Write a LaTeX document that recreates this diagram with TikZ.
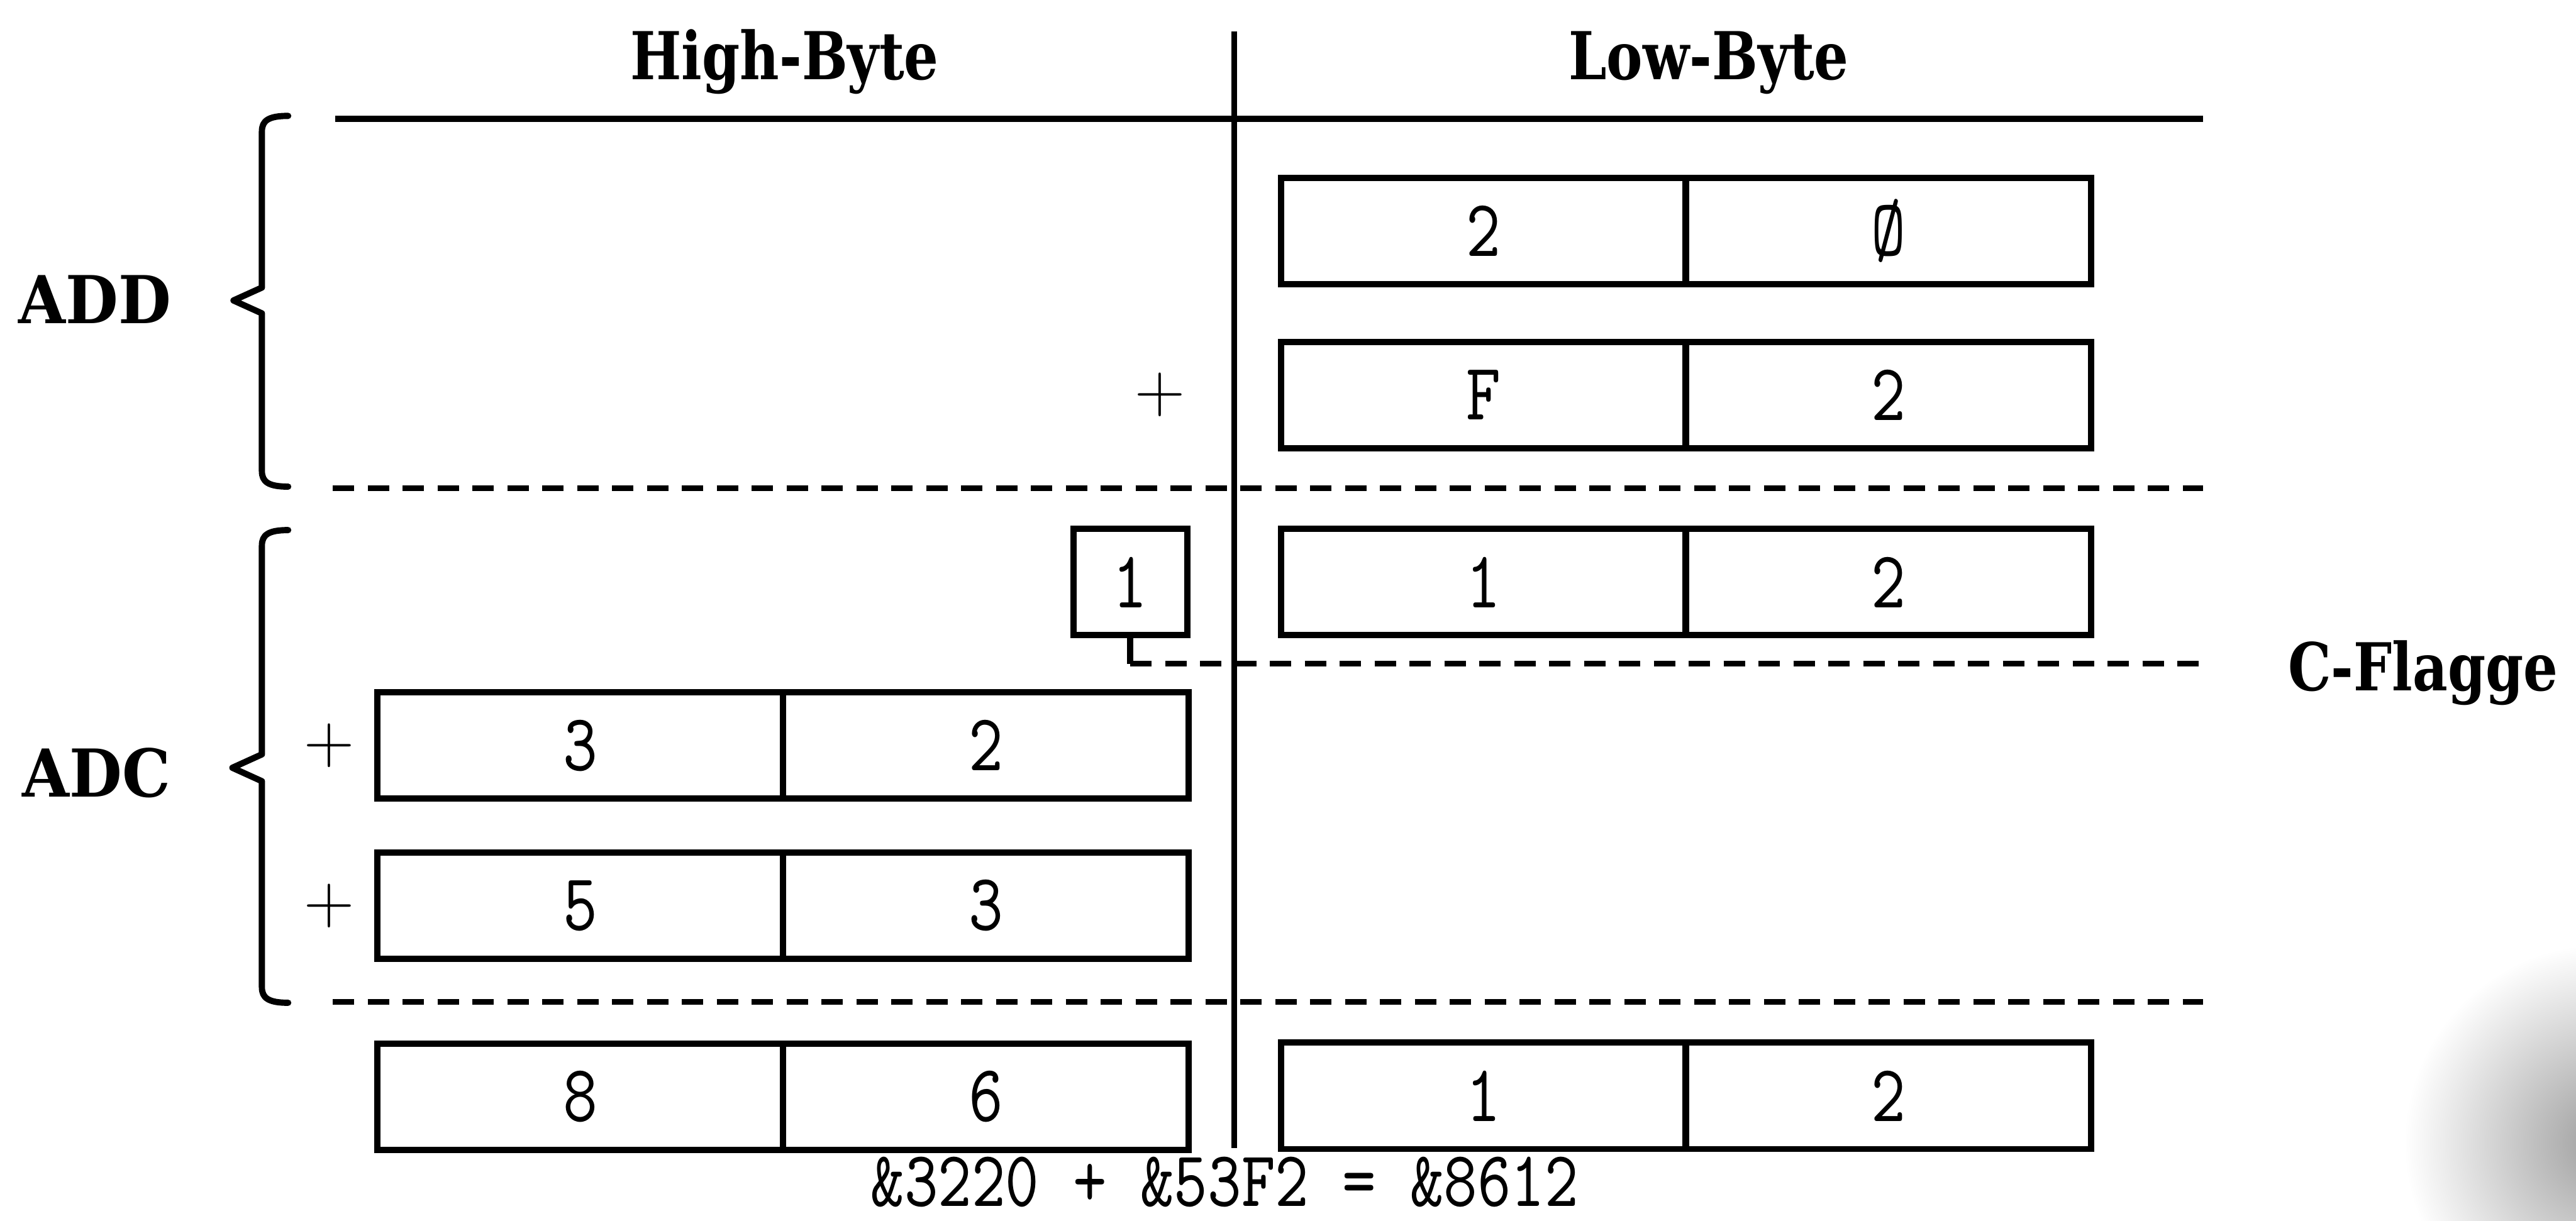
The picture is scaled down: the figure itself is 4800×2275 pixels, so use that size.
\documentclass[tikz,border=0pt]{standalone}
\usepackage{fontspec}
\newfontfamily\headfont[FakeStretch=0.82]{DejaVu Serif}
\newfontfamily\opfont[FakeStretch=0.92]{DejaVu Serif}
\newfontfamily\digfont[FakeStretch=0.81]{lmmono10-regular.otf}
\begin{document}
\begin{tikzpicture}[x=0.01cm,y=-0.01cm,
  cell/.style={draw, line width=3.3pt, minimum width=7.55cm, minimum height=1.98cm, inner sep=0pt,
    font=\digfont\fontsize{43}{43}\selectfont},
  smallcell/.style={cell, minimum width=2.12cm},
  head/.style={font=\headfont\bfseries\fontsize{35}{35}\selectfont, inner sep=0pt},
  oplabel/.style={font=\opfont\bfseries\fontsize{35}{35}\selectfont, inner sep=0pt},
  plussign/.style={font=\fontsize{37}{37}\selectfont, inner sep=0pt},
  sumtext/.style={font=\digfont\fontsize{42}{42}\selectfont, inner sep=0pt},
  solidrule/.style={line width=3.3pt},
  dashrule/.style={line width=3pt, dash pattern=on 0.4cm off 0.25cm},
  divider/.style={line width=3pt},
  bracepath/.style={line width=3.3pt, line join=round, line cap=round}]
\useasboundingbox (0,0) rectangle (4800,2275);
% scan smudge bottom right
\begin{scope}
\clip (0,0) rectangle (4800,2275);
\shade[inner color=black!38, outer color=white] (4850,2130) circle [radius=3.7cm];
\end{scope}
% headings
\node[head, anchor=base] (high) at (1462,148) {High-Byte};
\node[head, anchor=base] (low) at (3184,148) {Low-Byte};
% rules
\coordinate (vtop) at (2300,58);
\coordinate (vbot) at (2300,2140);
\draw[divider] (vtop) -- (vbot);
\coordinate (topL) at (625,222);
\coordinate (topR) at (4105,222);
\draw[solidrule] (topL) -- (topR);
\coordinate (d1L) at (620,910);
\coordinate (d1R) at (4105,910);
\draw[dashrule] (d1L) -- (d1R);
\coordinate (d3L) at (620,1867);
\coordinate (d3R) at (4105,1867);
\draw[dashrule] (d3L) -- (d3R);
% low byte boxes
\node[cell] (a1) at (2764.5,430.5) {2};
\node[cell] (a2) at (3518.5,430.5) {Ø};
\node[cell] (b1) at (2764.5,736.5) {F};
\node[cell] (b2) at (3518.5,736.5) {2};
\node[cell] (c1) at (2764.5,1085) {1};
\node[cell] (c2) at (3518.5,1085) {2};
\node[cell] (r1) at (2764.5,2042.5) {1};
\node[cell] (r2) at (3518.5,2042.5) {2};
% high byte boxes
\node[smallcell] (carry) at (2106,1085) {1};
\node[cell] (h1) at (1081,1389.5) {3};
\node[cell] (h2) at (1837,1389.5) {2};
\node[cell] (i1) at (1081,1688) {5};
\node[cell] (i2) at (1837,1688) {3};
\node[cell] (s1) at (1081,2044) {8};
\node[cell] (s2) at (1837,2044) {6};
% carry connector
\coordinate (ccorner) at (2106,1237);
\coordinate (cend) at (4105,1237);
\draw[solidrule] (carry.south) -- (ccorner);
\draw[dashrule] (ccorner) -- (cend);
\node[head, anchor=base west] (cflag) at (4263,1287) {C-Flagge};
% plus signs
\node[plussign] (p1) at (2162,736) {+};
\node[plussign] (p2) at (614,1389.5) {+};
\node[plussign] (p3) at (614,1688) {+};
% braces
\draw[bracepath] (537,216) .. controls (500,216) and (488,225) .. (488,245) -- (488,536) -- (435,560) -- (488,584) -- (488,878) .. controls (488,898) and (500,907) .. (537,907);
\draw[bracepath] (537,988) .. controls (500,988) and (488,997) .. (488,1017) -- (488,1406) -- (433,1431) -- (488,1456) -- (488,1840) .. controls (488,1860) and (500,1869) .. (537,1869);
% labels
\node[oplabel] (add) at (177,558) {ADD};
\node[oplabel] (adc) at (180,1441) {ADC};
% sum
\node[sumtext, anchor=base] (sum) at (2282,2248) {\&3220 + \&53F2 = \&8612};
\end{tikzpicture}
\end{document}
